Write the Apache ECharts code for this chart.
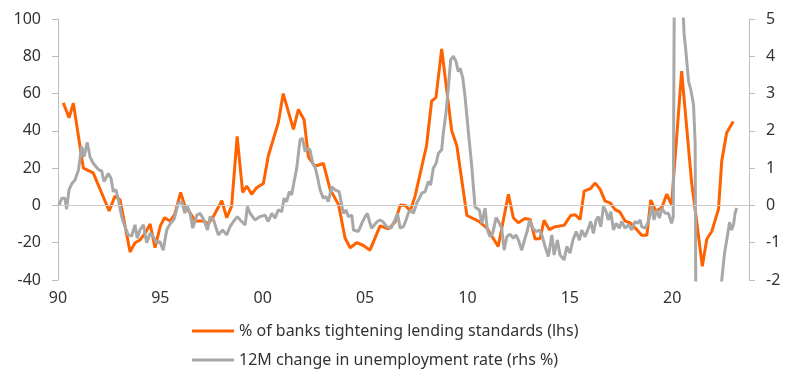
<!DOCTYPE html>
<html>
<head>
<meta charset="utf-8">
<script src="https://cdn.jsdelivr.net/npm/echarts@6/dist/echarts.min.js"></script>
<style>
html,body{margin:0;padding:0;background:#fff;}
#c{width:800px;height:379px;}
</style>
</head>
<body>
<div id="c"></div>
<script>
// % of banks tightening lending standards (lhs), quarterly survey
const lendYears = [1990.26,1990.54,1990.75,1991.24,1991.72,1992.5,1992.78,1993.03,1993.52,1993.76,1994.0,1994.25,1994.5,1994.74,1995.0,1995.2,1995.47,1995.7,1995.99,1996.2,1996.45,1996.7,1997.1,1997.34,1997.6,1998.0,1998.24,1998.48,1998.75,1999.02,1999.22,1999.46,1999.7,2000.03,2000.27,2000.76,2001.0,2001.5,2001.74,2002.02,2002.23,2002.55,2002.96,2003.29,2003.7,2004.02,2004.27,2004.59,2004.92,2005.24,2005.73,2006.14,2006.46,2006.72,2006.97,2007.2,2007.44,2008.0,2008.25,2008.46,2008.74,2009.23,2009.48,2009.97,2010.54,2010.94,2011.5,2012.0,2012.24,2012.48,2012.81,2013.06,2013.3,2013.55,2013.74,2014.0,2014.28,2014.72,2015.04,2015.26,2015.5,2015.7,2016.0,2016.24,2016.48,2016.72,2016.97,2017.2,2017.45,2017.7,2017.94,2018.27,2018.51,2018.76,2018.95,2019.2,2019.49,2019.73,2019.97,2020.46,2020.95,2021.2,2021.47,2021.69,2021.93,2022.26,2022.42,2022.66,2022.98];
const lendValues = [55,47,54.8,20,17.5,-3,5,3,-25,-20,-18.6,-15,-10,-22.7,-11,-6.6,-8.4,-4.8,7,-0.4,-4,-8.4,-8.4,-9.7,-5.7,2.5,-6.6,-0.4,37,7,10.4,6,9.5,11.8,26.5,44.4,60,40.8,51.5,46,26,21,22.5,8.6,0.5,-17.5,-22.7,-20,-21.5,-24,-11,-12.5,-9,0.2,0,-3,5,32,56,57.8,84,40,32,-5.4,-8.4,-12,-22,6,-6.6,-9.3,-7,-7.5,-18,-17.7,-8,-13,-11.4,-10.7,-5.4,-5,-7.5,7.7,9,12,8.6,2.3,1.4,-2.1,-3.6,-8.4,-9.3,-13,-16,-16,2.9,-3,-1.2,6,0.5,72,12,-9,-32.6,-18,-14,-2,24,39,45];

// 12M change in unemployment rate (rhs %)
const unempYears = [1990.05,1990.18,1990.34,1990.42,1990.54,1990.67,1990.83,1991.0,1991.16,1991.27,1991.43,1991.56,1991.72,1991.86,1992.0,1992.13,1992.25,1992.46,1992.59,1992.7,1992.83,1992.95,1993.11,1993.27,1993.43,1993.6,1993.76,1993.87,1994.0,1994.17,1994.33,1994.5,1994.66,1994.82,1994.98,1995.14,1995.31,1995.47,1995.67,1995.88,1996.04,1996.2,1996.29,1996.45,1996.58,1996.78,1996.94,1997.13,1997.3,1997.43,1997.6,1997.83,1998.04,1998.24,1998.4,1998.57,1998.76,1998.93,1999.14,1999.25,1999.38,1999.62,1999.87,2000.11,2000.27,2000.44,2000.6,2000.76,2000.93,2001.04,2001.17,2001.3,2001.41,2001.5,2001.66,2001.82,2001.94,2002.07,2002.18,2002.31,2002.44,2002.55,2002.67,2002.8,2002.96,2003.09,2003.2,2003.37,2003.53,2003.73,2003.86,2003.94,2004.07,2004.18,2004.35,2004.43,2004.67,2004.84,2005.0,2005.11,2005.21,2005.32,2005.49,2005.6,2005.73,2005.86,2006.05,2006.27,2006.46,2006.58,2006.71,2006.87,2007.0,2007.11,2007.23,2007.36,2007.52,2007.65,2007.77,2007.93,2008.09,2008.2,2008.33,2008.47,2008.58,2008.74,2008.82,2008.95,2009.07,2009.18,2009.31,2009.44,2009.55,2009.64,2009.77,2009.88,2010.05,2010.21,2010.29,2010.37,2010.42,2010.58,2010.7,2010.86,2010.97,2011.1,2011.23,2011.4,2011.56,2011.67,2011.79,2011.92,2012.08,2012.24,2012.37,2012.49,2012.65,2012.81,2012.93,2013.03,2013.19,2013.35,2013.51,2013.63,2013.79,2013.95,2014.12,2014.23,2014.39,2014.52,2014.72,2014.85,2015.01,2015.15,2015.31,2015.47,2015.58,2015.74,2015.91,2016.02,2016.15,2016.28,2016.39,2016.51,2016.64,2016.77,2016.88,2017.0,2017.13,2017.26,2017.42,2017.53,2017.7,2017.86,2018.02,2018.18,2018.3,2018.43,2018.51,2018.68,2018.84,2019.0,2019.11,2019.24,2019.38,2019.49,2019.65,2019.81,2019.97,2020.05,2020.14,2020.22,2020.3,2020.4,2020.5,2020.58,2020.63,2020.8,2020.91,2021.04,2021.12,2021.2,2021.5,2021.8,2022.1,2022.33,2022.42,2022.55,2022.7,2022.8,2022.9,2023.0,2023.07,2023.15];
const unempValues = [0,0.19,0.19,-0.1,0.42,0.58,0.68,0.95,1.58,1.31,1.69,1.31,1.13,1.04,0.95,0.93,0.64,0.86,0.73,0.37,0.42,0.15,-0.3,-0.57,-0.79,-0.82,-0.52,-0.88,-0.66,-0.52,-1.0,-0.75,-0.84,-1.0,-0.97,-1.2,-0.66,-0.5,-0.37,0.06,0.1,-0.21,0.01,-0.21,-0.61,-0.26,-0.21,-0.39,-0.66,-0.3,-0.39,-0.79,-0.66,-0.79,-0.57,-0.43,-0.3,-0.41,-0.52,-0.03,-0.21,-0.39,-0.3,-0.26,-0.43,-0.21,-0.34,-0.12,-0.17,0.19,0.1,0.37,0.28,0.55,1.0,1.76,1.8,1.44,1.53,1.49,1.13,1.04,0.77,0.42,0.19,0.24,0.1,0.5,0.42,0.37,0.01,-0.21,-0.12,-0.3,-0.26,-0.66,-0.7,-0.48,-0.3,-0.21,-0.43,-0.61,-0.5,-0.43,-0.39,-0.43,-0.57,-0.61,-0.39,-0.21,-0.61,-0.57,-0.39,-0.21,-0.12,-0.21,0.06,0.19,0.33,0.37,0.64,0.55,1.0,1.13,1.4,1.49,1.94,2.48,3.19,3.91,4.0,3.86,3.59,3.68,3.42,2.92,1.94,1.04,0.5,-0.05,-0.07,-0.12,-0.48,-0.07,-0.66,-0.84,-0.75,-0.32,-0.48,-0.61,-1.2,-0.84,-0.77,-0.88,-0.79,-0.93,-1.2,-0.88,-0.66,-0.39,-0.61,-0.7,-0.66,-0.79,-1.1,-1.37,-0.79,-1.33,-0.93,-1.33,-1.46,-1.1,-1.28,-0.93,-0.7,-0.93,-0.66,-0.84,-0.61,-0.43,-0.75,-0.39,-0.3,-0.57,-0.03,-0.17,-0.39,-0.17,-0.66,-0.48,-0.61,-0.43,-0.61,-0.52,-0.66,-0.43,-0.48,-0.39,-0.57,-0.61,-0.43,-0.03,-0.39,-0.12,-0.34,-0.07,-0.21,-0.21,-0.48,-0.3,10.3,11.0,9.0,7.0,5.6,4.6,4.35,3.32,3.1,2.7,1.67,-8.6,-6,-4,-3,-2.4,-2.0,-1.3,-0.8,-0.45,-0.66,-0.5,-0.21,-0.07];

const xTicks = [1990,1995,2000,2005,2010,2015,2020];

const zip = (a, b) => a.map((v, i) => [v, b[i]]);
const FONT = 'Noto Sans';
const txt = '#333';
const axisCol = '#bdbdbd';

const chart = echarts.init(document.getElementById('c'), null, {renderer: 'canvas'});
chart.setOption({
  animation: false,
  backgroundColor: '#fff',
  textStyle: {fontFamily: FONT},
  grid: {left: 58, right: 51, top: 19, bottom: 99, containLabel: false},
  legend: {
    orient: 'vertical', left: 192, top: 322, padding: 0,
    itemWidth: 42, itemHeight: 3, itemGap: 11, icon: 'rect',
    textStyle: {fontFamily: FONT, fontSize: 16, color: txt, lineHeight: 18},
    data: ['% of banks tightening lending standards (lhs)', '12M change in unemployment rate (rhs %)']
  },
  xAxis: {
    type: 'value', min: 1990, max: 2023.75, interval: 5,
    axisLine: {show: false, onZero: false},
    axisTick: {show: false},
    splitLine: {show: false},
    axisLabel: {
      fontFamily: FONT, fontSize: 16, color: txt, margin: 10,
      showMaxLabel: false,
      formatter: v => xTicks.includes(v) ? String(v % 100).padStart(2, '0') : ''
    }
  },
  yAxis: [
    {
      type: 'value', min: -40, max: 100, interval: 20, position: 'left',
      axisLine: {show: true, lineStyle: {color: axisCol, width: 1}},
      axisTick: {show: true, length: 6, lineStyle: {color: axisCol}},
      splitLine: {show: false},
      axisLabel: {fontFamily: FONT, fontSize: 16, color: txt, margin: 17}
    },
    {
      type: 'value', min: -2, max: 5, interval: 1, position: 'right',
      axisLine: {show: true, lineStyle: {color: axisCol, width: 1}},
      axisTick: {show: true, length: 6, lineStyle: {color: axisCol}},
      splitLine: {show: false},
      axisLabel: {fontFamily: FONT, fontSize: 16, color: txt, margin: 17}
    }
  ],
  series: [
    {
      name: '% of banks tightening lending standards (lhs)',
      type: 'line', yAxisIndex: 0, showSymbol: false, symbol: 'none', clip: true,
      data: zip(lendYears, lendValues),
      itemStyle: {color: '#ff6200'},
      lineStyle: {color: '#ff6200', width: 3},
      markLine: {
        silent: true, symbol: 'none', label: {show: false},
        lineStyle: {color: '#cccccc', width: 1, type: 'solid'},
        data: [{yAxis: 0}]
      },
      z: 2
    },
    {
      name: '12M change in unemployment rate (rhs %)',
      type: 'line', yAxisIndex: 1, showSymbol: false, symbol: 'none', clip: true,
      data: zip(unempYears, unempValues),
      itemStyle: {color: '#a8a8a8'},
      lineStyle: {color: '#a8a8a8', width: 3},
      z: 3
    }
  ]
});
</script>
</body>
</html>
